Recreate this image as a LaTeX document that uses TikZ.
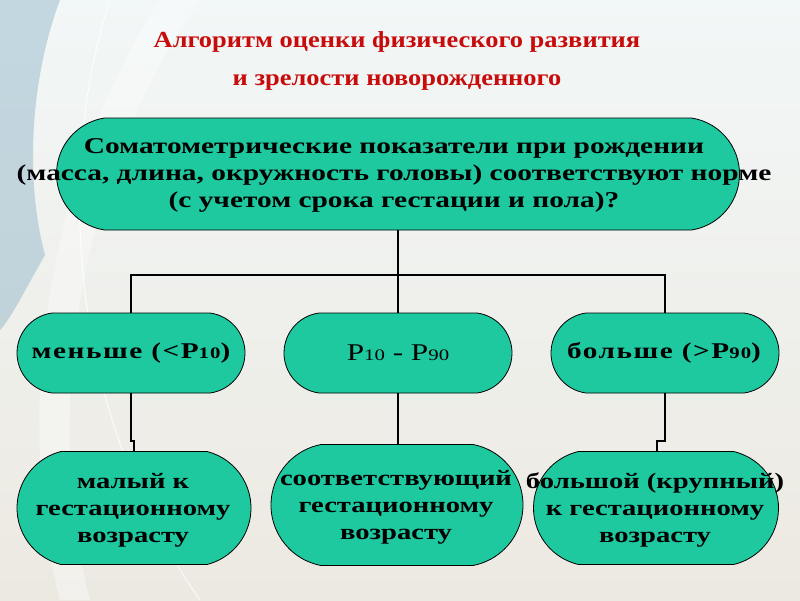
\documentclass[tikz,border=0pt]{standalone}
\usepackage{fontspec}
\setmainfont{Liberation Serif}
\newfontfamily\bodyfont[FakeStretch=1.3]{Liberation Serif}
\newfontfamily\midfont[FakeStretch=1.3,LetterSpace=7]{Liberation Serif}
\newfontfamily\titlefont[FakeStretch=1.15]{Liberation Serif}
\definecolor{nodegreen}{RGB}{30,201,160}
\definecolor{titlered}{RGB}{200,12,12}
\definecolor{bgtop}{RGB}{242,247,247}
\definecolor{bgbot}{RGB}{236,233,225}
\definecolor{swoosh}{RGB}{120,165,190}
\tikzset{
  anchorbox/.style={rectangle,inner sep=0pt,draw=none},
  capsule/.style={fill=nodegreen,draw=black,line width=0.8pt},
  bodytext/.style={align=center,inner sep=0pt,font=\bodyfont\bfseries\fontsize{22}{27}\selectfont},
  midtext/.style={align=center,inner sep=0pt,font=\midfont\bfseries\fontsize{22.5}{27}\selectfont},
  toptext/.style={align=center,inner sep=0pt,font=\bodyfont\bfseries\fontsize{22.6}{27}\selectfont},
  thintext/.style={align=center,inner sep=0pt,font=\bodyfont\fontsize{24}{27}\selectfont},
  titletext/.style={align=center,inner sep=0pt,text=titlered,font=\titlefont\bfseries\fontsize{23}{38.5}\selectfont},
  conn/.style={draw=black,line width=1.6pt},
}
% name, cx, cy, total width, height, bulge
\newcommand\capsule[6]{%
  \node[anchorbox,minimum width=#4pt,minimum height=#5pt] (#1) at (#2,#3) {};
  \pgfmathsetmacro\capA{#5/2}%
  \pgfmathsetmacro\capR{(\capA*\capA+#6*#6)/(2*#6)}%
  \pgfmathsetmacro\capT{asin(\capA/\capR)}%
  \filldraw[capsule] ({#2-#4/2+#6},{#3+#5/2}) -- ({#2+#4/2-#6},{#3+#5/2})
    arc[start angle=\capT,end angle=-\capT,radius=\capR pt]
    -- ({#2-#4/2+#6},{#3-#5/2})
    arc[start angle=180+\capT,end angle=180-\capT,radius=\capR pt] -- cycle;
}
\newcommand\sub[1]{{\fontsize{16}{16}\selectfont #1}}
\begin{document}
\begin{tikzpicture}[x=1pt,y=1pt]
\useasboundingbox (0,-600) rectangle (800,0);
% background
\shade[top color=bgtop,bottom color=bgbot] (0,-600) rectangle (800,0);
\fill[swoosh,opacity=0.38] (0,0) -- (60,0) .. controls (30,-80) and (25,-180) .. (45,-255) .. controls (25,-290) and (10,-320) .. (0,-330) -- cycle;
\fill[white,opacity=0.35] (60,-600) .. controls (20,-450) and (30,-200) .. (160,0) -- (200,0) .. controls (60,-200) and (50,-450) .. (90,-600) -- cycle;
\draw[white,opacity=0.8,line width=1pt] (110,0) .. controls (60,-150) and (60,-400) .. (200,-600);
% title
\node[titletext] (title) at (397,-61) {Алгоритм оценки физического развития\\и зрелости новорожденного};
% shapes
\capsule{top}{398}{-174}{683}{112}{48}
\capsule{ml}{131}{-353}{228}{80}{35}
\capsule{mc}{398}{-353}{228}{80}{35}
\capsule{mr}{665}{-353}{228}{80}{35}
\capsule{bl}{134}{-508}{234}{113}{44}
\capsule{bc}{397}{-505}{252}{121}{50}
\capsule{br}{656}{-508}{245}{113}{45}
% texts
\node[toptext] (ttop) at (394,-175) {Соматометрические показатели при рождении\\(масса, длина, окружность головы) соответствуют норме\\(с учетом срока гестации и пола)?};
\node[midtext] (tml) at (131,-353) {меньше (<P\sub{10})};
\node[thintext] (tmc) at (398,-353) {P\sub{10} - P\sub{90}};
\node[midtext] (tmr) at (664,-353) {больше (>P\sub{90})};
\node[bodytext] (tbl) at (133,-510) {малый к\\гестационному\\возрасту};
\node[bodytext] (tbc) at (396,-507) {соответствующий\\гестационному\\возрасту};
\node[bodytext] (tbr) at (655,-510) {большой (крупный)\\к гестационному\\возрасту};
% connectors
\draw[conn] (top.south) -- (mc.north);
\draw[conn] (ml.north) |- ([yshift=38pt]mc.north) -| (mr.north);
\draw[conn] (ml.south) -- ++(0,-48) -| (bl.north);
\draw[conn] (mc.south) -- (mc.south |- bc.north);
\draw[conn] (mr.south) -- ++(0,-48) -| ([xshift=1pt]br.north);
\end{tikzpicture}
\end{document}
